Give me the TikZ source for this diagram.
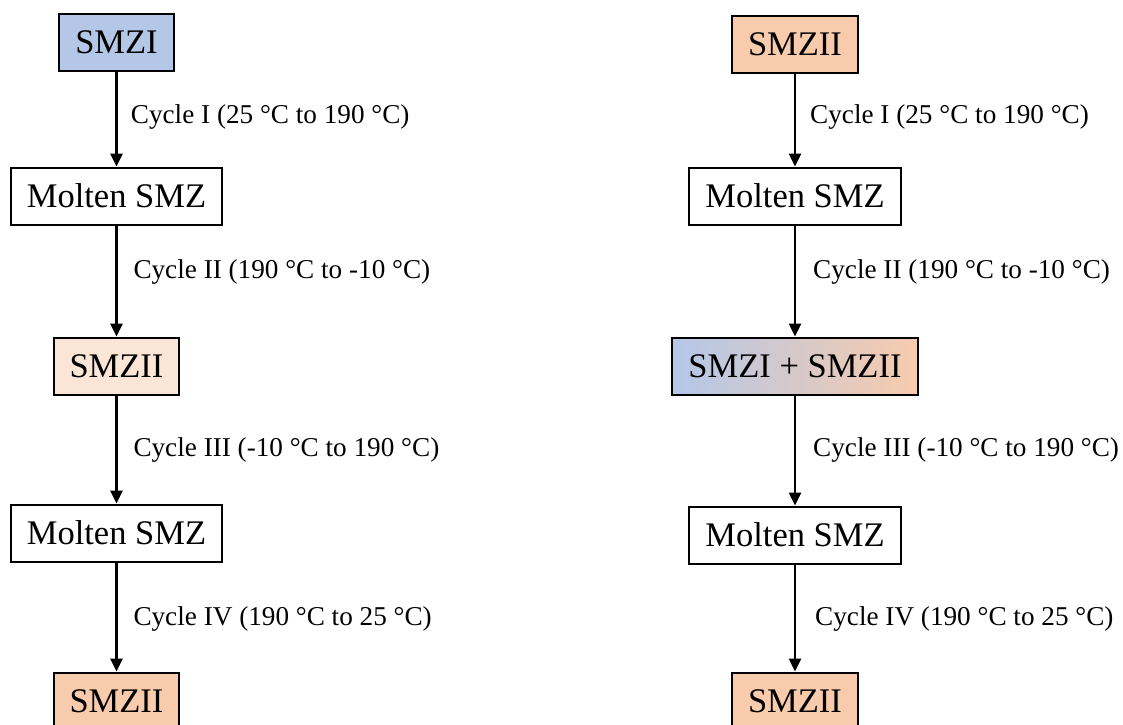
\documentclass[tikz,border=0pt]{standalone}
\usepackage{fontspec}
\setmainfont{Liberation Serif}
\usetikzlibrary{arrows.meta}

\definecolor{smzIblue}{HTML}{B4C7E7}
\definecolor{smzIIorange}{HTML}{F8CBAD}
\definecolor{smzIIpale}{HTML}{FBE5D6}

\tikzset{
  phase/.style={draw=black, line width=2pt, inner xsep=16pt, inner ysep=0pt,
    minimum height=57pt, font=\fontsize{34.5}{40}\selectfont, text=black},
  formI/.style={phase, fill=smzIblue},
  formII/.style={phase, fill=smzIIorange},
  formIIpale/.style={phase, fill=smzIIpale},
  melt/.style={phase, fill=white},
  mixed/.style={phase, left color=smzIblue, right color=smzIIorange},
  flow/.style={line width=2.5pt, -{Triangle[length=13pt,width=12pt]}},
  cyclelabel/.style={anchor=base west, inner sep=0pt,
    font=\fontsize{27.2}{32}\selectfont}
}

\begin{document}
\begin{tikzpicture}[x=1pt,y=-1pt]
  \useasboundingbox (0,0) rectangle (1123,724);
  \clip (0,0) rectangle (1123,724);

  % left sequence
  \node[formI]      (L1) at (116.5,42.5) {SMZI};
  \node[melt]       (L2) at (116.5,196)  {Molten SMZ};
  \node[formIIpale] (L3) at (116.5,366)  {SMZII};
  \node[melt]       (L4) at (116.5,533)  {Molten SMZ};
  \node[formII]     (L5) at (116.5,701)  {SMZII};

  \draw[flow] (L1) -- (L2);
  \draw[flow] (L2) -- (L3);
  \draw[flow] (L3) -- (L4);
  \draw[flow] (L4) -- (L5);

  \node[cyclelabel] (la) at (130.7,123.8) {Cycle I (25 °C to 190 °C)};
  \node[cyclelabel] (lb) at (133.3,278.8) {Cycle II (190 °C to -10 °C)};
  \node[cyclelabel] (lc) at (133.3,456.8) {Cycle III (-10 °C to 190 °C)};
  \node[cyclelabel] (ld) at (133.3,625.8) {Cycle IV (190 °C to 25 °C)};

  % right sequence
  \node[formII] (R1) at (795,44.5) {SMZII};
  \node[melt]   (R2) at (795,196)  {Molten SMZ};
  \node[mixed]  (R3) at (795,366)  {SMZI + SMZII};
  \node[melt]   (R4) at (795,535)  {Molten SMZ};
  \node[formII] (R5) at (795,701)  {SMZII};

  \draw[flow] (R1) -- (R2);
  \draw[flow] (R2) -- (R3);
  \draw[flow] (R3) -- (R4);
  \draw[flow] (R4) -- (R5);

  \node[cyclelabel] (ra) at (810,123.8) {Cycle I (25 °C to 190 °C)};
  \node[cyclelabel] (rb) at (813,278.8) {Cycle II (190 °C to -10 °C)};
  \node[cyclelabel] (rc) at (813,456.8) {Cycle III (-10 °C to 190 °C)};
  \node[cyclelabel] (rd) at (815,625.8) {Cycle IV (190 °C to 25 °C)};
\end{tikzpicture}
\end{document}
